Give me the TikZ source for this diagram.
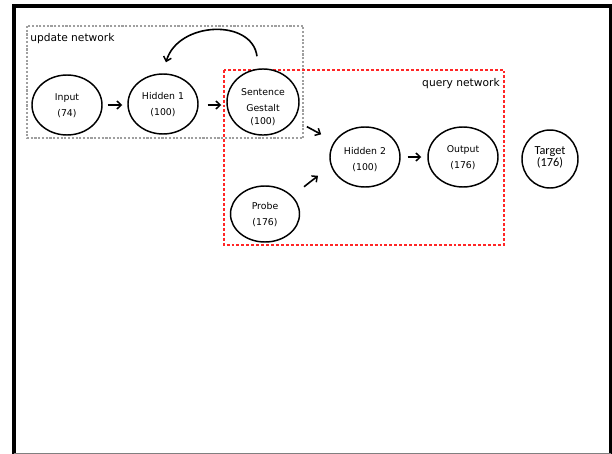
\documentclass[tikz,border=0pt]{standalone}
\usepackage{fontspec}
\setmainfont{DejaVu Sans}
\newfontfamily\targetfont{Carlito}
\usetikzlibrary{arrows.meta,shapes.geometric,calc}
\begin{document}
\begin{tikzpicture}[x=0.75pt,y=-0.75pt,
  unit/.style={draw=black, line width=1.1pt, fill=white, ellipse, inner sep=0pt,
    minimum width=52.5pt, minimum height=45pt, align=center, font=\fontsize{7}{8.5}\selectfont},
  arr/.style={-{Straight Barb[length=3.2pt,width=6pt,line width=1.1pt]}, line width=1.2pt},
  groupbox/.style={line width=0.8pt},
  grouplabel/.style={inner sep=0pt, font=\fontsize{8}{9.5}\selectfont}]
\useasboundingbox (0,0) rectangle (612,454);

% outer frame
\draw[line width=2.4pt] (14,454) -- (14,6) -- (610.5,6) -- (610.5,454);
\draw[line width=1.6pt] (14,6) -- (610.5,6);
\draw[gray, line width=0.8pt] (14,453.3) -- (610.5,453.3);

% group outlines
\draw[groupbox, gray!75, dash pattern=on 1.6pt off 1.2pt] (27,26) rectangle (303,138);
\draw[groupbox, red!85!white, dash pattern=on 2.2pt off 1.5pt] (224,70) rectangle (504,245);
\node[grouplabel, anchor=west] (updlabel) at (30,39) {update network};
\node[grouplabel, anchor=east] (qrylabel) at (500,84) {query network};

% units
\node[unit] (in) at (67,105) {\rule{0pt}{6.5pt}Input\\[3.6pt](74)};
\node[unit] (h1) at (163,104) {\rule{0pt}{6.5pt}Hidden 1\\[3.6pt](100)};
\node[unit, minimum width=54pt, minimum height=44pt] (sg) at (263,102)
  {\rule{0pt}{12.5pt}Sentence\\[3.8pt]Gestalt\\[0.8pt](100)};
\node[unit] (h2) at (365,157) {\rule{0pt}{9pt}Hidden 2\\[3.6pt](100)};
\node[unit] (out) at (463,157) {\rule{0pt}{6.5pt}Output\\[3.6pt](176)};
\node[unit, minimum width=51.75pt, minimum height=42pt] (probe) at (265,214) {\rule{0pt}{6.5pt}Probe\\[3.6pt](176)};
\node[unit, minimum width=42pt, minimum height=43.5pt, font=\targetfont\fontsize{9.2}{10.5}\selectfont]
  (target) at (550,159) {Target\\[-1.5pt](176)\rule[-4pt]{0pt}{0pt}};

% connections
\draw[arr] ($(in.east)+(5,0)$) -- ($(h1.west)+(-5,1)$);
\draw[arr] ($(h1.east)+(9,1)$) -- ($(sg.west)+(-5,3)$);
\draw[arr] ($(sg)!0.43!(h2)+(0,1)$) -- ($(sg)!0.57!(h2)+(0,1)$);
\draw[arr] ($(probe)!0.39!(h2)+(0,-5)$) -- ($(probe)!0.53!(h2)+(0,-8)$);
\draw[arr] ($(h2.east)+(7,0)$) -- ($(out.west)+(-6,0)$);
\draw[arr] ($(sg.north)+(-6,-12)$) .. controls ($(sg.north)+(-11,-50)$) and ($(h1.north)+(15,-52)$) .. ($(h1.north)+(3,-11)$);
\end{tikzpicture}
\end{document}
